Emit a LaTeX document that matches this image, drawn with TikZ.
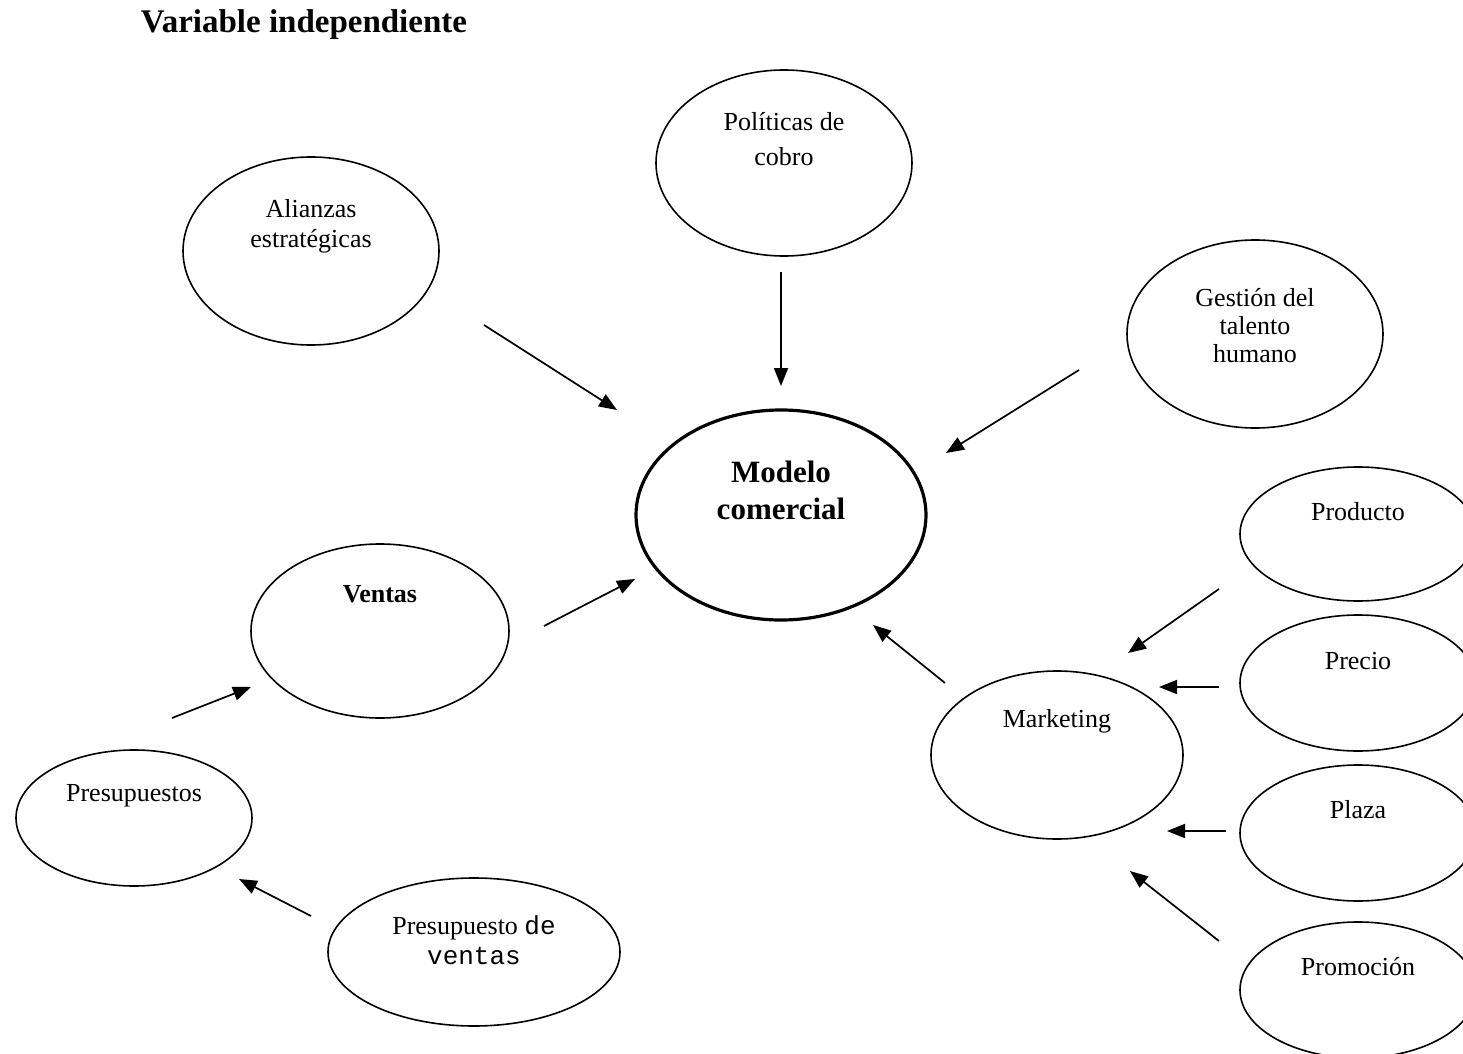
\documentclass[tikz,border=0pt]{standalone}
\usepackage{fontspec}
\setmainfont{Liberation Serif}
\newfontfamily\monofont{Liberation Mono}
\usetikzlibrary{arrows.meta,shapes.geometric}

\begin{document}
\begin{tikzpicture}[x=0.5pt, y=-0.5pt,
  elipse/.style={draw, ellipse, line width=0.8pt, inner sep=0pt},
  texto/.style={align=center, font=\fontsize{13}{15}\selectfont},
  flecha/.style={-{Triangle[length=9pt,width=7pt]}, line width=0.85pt}]
\useasboundingbox (0,0) rectangle (1463,1054);
\clip (0,0) rectangle (1463,1054);

% Title
\node[font=\bfseries\fontsize{16.5}{20}\selectfont] (titulo) at (304,25) {Variable independiente};

% Ellipses (centre x/y, half width, half height)
\foreach \nombre/\cx/\cy/\rx/\ry in {
  politicas/784/163/128/93,
  alianzas/311/251/128/94,
  gestion/1255/334/128/94,
  ventas/380/631/129/87,
  marketing/1057/755/126/84,
  producto/1358/534/118/67,
  precio/1358/683/118/68,
  plaza/1358/833/118/68,
  promocion/1358/990/118/68,
  presupuestos/134/818/118/68,
  presventas/474/952/146/74}
{
  \node[elipse, minimum width=\rx pt, minimum height=\ry pt] (\nombre) at (\cx,\cy) {};
}
\node[elipse, line width=1.6pt, minimum width=145pt, minimum height=105pt] (modelo) at (781,515) {};

% Labels
\node[texto, font=\fontsize{13}{17.5}\selectfont] (politicas-txt) at (784,139) {Políticas de\\cobro};
\node[texto] (alianzas-txt) at (311,226) {Alianzas\\estratégicas};
\node[texto, font=\fontsize{13}{14}\selectfont] (gestion-txt) at (1255,326) {Gestión del\\talento\\humano};
\node[align=center, font=\bfseries\fontsize{15.5}{18.5}\selectfont] (modelo-txt) at (781,490) {Modelo\\comercial};
\node[texto, font=\bfseries\fontsize{13}{15}\selectfont] (ventas-txt) at (380,594) {Ventas};
\node[texto] (marketing-txt) at (1057,721) {Marketing};
\node[texto] (producto-txt) at (1358,512) {Producto};
\node[texto] (precio-txt) at (1358,661) {Precio};
\node[texto] (plaza-txt) at (1358,810) {Plaza};
\node[texto] (promocion-txt) at (1358,967) {Promoción};
\node[texto] (presupuestos-txt) at (134,796) {Presupuestos};
\node[texto] (presventas-txt) at (474,940) {Presupuesto {\monofont de}\\{\monofont ventas}};

% Arrows (tail/head points)
\foreach \i/\xa/\ya/\xb/\yb in {
  1/484/325/617/410,
  2/781/272/781/386,
  3/1079/370/946/453,
  4/544/626/635/579,
  5/945/683/873/625,
  6/172/718/251/687,
  7/311/916/239/879,
  8/1219/589/1128/653,
  9/1219/687/1159/687,
  10/1226/831/1167/831,
  11/1219/941/1130/871}
{
  \coordinate (sale\i) at (\xa,\ya);
  \coordinate (llega\i) at (\xb,\yb);
  \draw[flecha] (sale\i) -- (llega\i);
}
\end{tikzpicture}
\end{document}
